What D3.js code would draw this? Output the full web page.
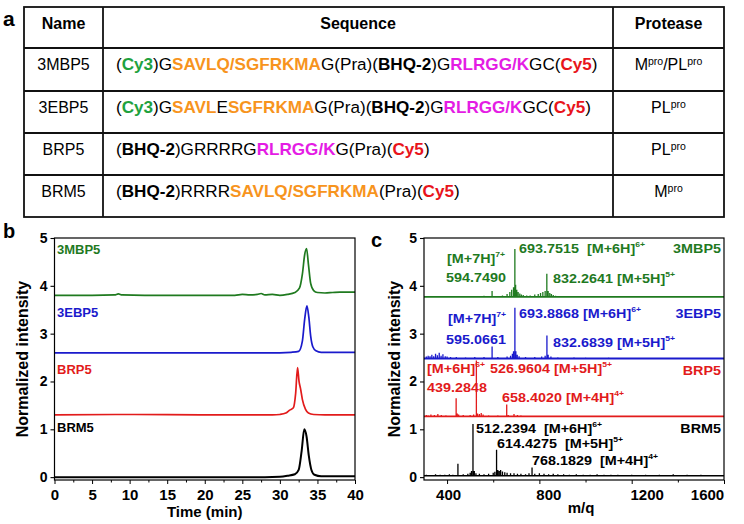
<!DOCTYPE html>
<html><head><meta charset="utf-8">
<script src="https://cdn.jsdelivr.net/npm/d3@7"></script>
<style>
body{margin:0;background:#fff}
svg{display:block}
text{font-family:"Liberation Sans",Arial,Helvetica,sans-serif;white-space:pre}
</style>
</head><body>
<svg id="fig" width="744" height="524"></svg>
<script>
// ================= DATA =================
// Panel a: table
const tableHeaders = ["Name", "Sequence", "Protease"];
const peptideNames = ["3MBP5", "3EBP5", "BRP5", "BRM5"];
// sequence segments: [text, kind]  kind: n=normal, b=bold, cy3, mpro, plpro, cy5
const sequenceSegments = [
  [["(", "n"], ["Cy3", "cy3"], [")G", "n"], ["SAVLQ/SGFRKMA", "mpro"], ["G(Pra)(", "n"], ["BHQ-2", "b"], [")G", "n"], ["RLRGG/K", "plpro"], ["GC(", "n"], ["Cy5", "cy5"], [")", "n"]],
  [["(", "n"], ["Cy3", "cy3"], [")G", "n"], ["SAVL", "mpro"], ["E", "n"], ["SGFRKMA", "mpro"], ["G(Pra)(", "n"], ["BHQ-2", "b"], [")G", "n"], ["RLRGG/K", "plpro"], ["GC(", "n"], ["Cy5", "cy5"], [")", "n"]],
  [["(", "n"], ["BHQ-2", "b"], [")GRRRRG", "n"], ["RLRGG/K", "plpro"], ["G(Pra)(", "n"], ["Cy5", "cy5"], [")", "n"]],
  [["(", "n"], ["BHQ-2", "b"], [")RRRR", "n"], ["SAVLQ/SGFRKMA", "mpro"], ["(Pra)(", "n"], ["Cy5", "cy5"], [")", "n"]]
];
// protease segments: [text, isSuperscript]
const proteaseSegments = [
  [["M", 0], ["pro", 1], ["/PL", 0], ["pro", 1]],
  [["PL", 0], ["pro", 1]],
  [["PL", 0], ["pro", 1]],
  [["M", 0], ["pro", 1]]
];

// Panel b: HPLC traces [time (min), normalized intensity incl. offset]
const hplc3MBP5 = [[0,3.80],[5,3.80],[8,3.81],[8.5,3.83],[9,3.81],[12,3.80],[20,3.80],[24,3.80],[25,3.82],[26,3.81],[27,3.82],[27.5,3.84],[28,3.81],[29,3.82],[30,3.80],[31,3.82],[32,3.86],[32.6,3.95],[33.0,4.25],[33.3,4.65],[33.55,4.78],[33.8,4.45],[34.1,4.05],[34.5,3.90],[35,3.86],[36,3.85],[37,3.86],[38,3.87],[40,3.87]];
const hplc3EBP5 = [[0,2.60],[30,2.60],[31.5,2.61],[32.5,2.63],[33.0,2.85],[33.3,3.30],[33.6,3.58],[33.85,3.35],[34.1,2.95],[34.4,2.72],[34.8,2.64],[35.5,2.61],[40,2.61]];
const hplcBRP5 = [[0,1.30],[10,1.31],[20,1.30],[29,1.30],[30,1.31],[30.8,1.34],[31.3,1.40],[31.8,1.45],[32.1,1.75],[32.35,2.29],[32.55,2.00],[32.75,1.85],[33.0,1.62],[33.4,1.42],[33.8,1.34],[34.5,1.31],[36,1.30],[40,1.30]];
const hplcBRM5 = [[0,0.0],[20,0.0],[28,0.0],[30,0.01],[31,0.03],[32,0.06],[32.5,0.15],[32.9,0.55],[33.25,1.0],[33.55,0.85],[33.85,0.45],[34.2,0.15],[34.6,0.05],[35.5,0.02],[40,0.02]];
const hplcTicksX = [0, 5, 10, 15, 20, 25, 30, 35, 40];
const yTicks = [0, 1, 2, 3, 4, 5];

// Panel c: mass spectra, baseline offsets and sticks [m/q, relative intensity]
const msBaselines = [3.77, 2.48, 1.27, 0.03];
const ms3MBP5 = [[560,0.02],[595,0.12],[640,0.03],[660,0.06],[672,0.1],[680,0.15],[688,0.2],[693.75,1.0],[697,0.25],[702,0.15],[708,0.1],[715,0.07],[722,0.05],[730,0.04],[745,0.03],[760,0.03],[780,0.05],[795,0.06],[805,0.08],[815,0.1],[825,0.12],[832.26,0.48],[838,0.12],[845,0.08],[852,0.06],[860,0.04],[870,0.02],[900,0.01]];
const ms3EBP5 = [[310,0.04],[318,0.06],[326,0.05],[334,0.08],[342,0.05],[350,0.1],[358,0.07],[366,0.12],[374,0.06],[382,0.09],[392,0.05],[400,0.04],[415,0.03],[440,0.03],[480,0.02],[520,0.03],[560,0.03],[595.07,0.25],[620,0.03],[660,0.04],[675,0.06],[683,0.1],[688,0.15],[693.89,1.06],[698,0.15],[704,0.08],[712,0.05],[740,0.03],[780,0.03],[810,0.04],[825,0.06],[832.68,0.48],[838,0.08],[850,0.04],[880,0.02],[950,0.02],[1000,0.015],[1100,0.015],[1200,0.01],[1300,0.01],[1400,0.01]];
const msBRP5 = [[310,0.03],[318,0.02],[330,0.04],[345,0.03],[360,0.05],[375,0.03],[395,0.02],[439.28,0.38],[444,0.06],[450,0.04],[470,0.03],[500,0.03],[515,0.04],[526.96,1.17],[532,0.06],[540,0.05],[548,0.07],[556,0.04],[580,0.02],[620,0.02],[658.40,0.25],[665,0.03],[690,0.05],[705,0.03],[720,0.02],[740,0.01]];
const msBRM5 = [[310,0.02],[330,0.015],[350,0.03],[370,0.02],[390,0.02],[410,0.03],[425,0.02],[447,0.25],[470,0.03],[490,0.04],[500,0.06],[506,0.1],[512.24,1.08],[518,0.1],[525,0.05],[540,0.04],[560,0.03],[580,0.04],[600,0.06],[607,0.08],[614.43,0.54],[620,0.12],[626,0.1],[632,0.12],[640,0.09],[650,0.07],[660,0.06],[675,0.05],[690,0.05],[705,0.04],[720,0.04],[740,0.03],[755,0.05],[768.18,0.17],[780,0.04],[800,0.05],[820,0.04],[840,0.03],[860,0.04],[880,0.03],[905,0.03],[930,0.02],[960,0.03],[990,0.02],[1020,0.02],[1050,0.03],[1080,0.02],[1110,0.02],[1140,0.02],[1170,0.015],[1200,0.02],[1230,0.015],[1260,0.02],[1290,0.015],[1320,0.02],[1350,0.015],[1380,0.03],[1410,0.015],[1440,0.02],[1470,0.015],[1500,0.02]];
const msTicksMajor = [400, 800, 1200, 1600];
const msTicksMinor = [600, 1000, 1400];
// annotation texts per spectrum: [main text, superscript]
const msLabels = [
  [["[M+7H]", "7+"], ["594.7490", ""], ["693.7515  [M+6H]", "6+"], ["832.2641 [M+5H]", "5+"]],
  [["[M+7H]", "7+"], ["595.0661", ""], ["693.8868 [M+6H]", "6+"], ["832.6839 [M+5H]", "5+"]],
  [["[M+6H]", "6+"], ["526.9604 [M+5H]", "5+"], ["439.2848", ""], ["658.4020 [M+4H]", "4+"]],
  [["512.2394  [M+6H]", "6+"], ["614.4275  [M+5H]", "5+"], ["768.1829  [M+4H]", "4+"]]
];

// ================= STYLE / LAYOUT =================
const seriesColors = ["#1f7a1f", "#1a1acc", "#e21b1b", "#000000"];
const tableColors = {cy3: "#1ea23e", mpro: "#f7941d", plpro: "#e41ce4", cy5: "#e8141b"};
const FONT = '"Liberation Sans",Arial,sans-serif';

const svg = d3.select("#fig");

// ---------- Panel a ----------
const colX = [24, 103, 613, 724];
const rowY = [7, 48, 91, 133, 175, 217];
const gA = svg.append("g");
gA.append("text").attr("x", 3).attr("y", 26).attr("font-size", 21).attr("font-weight", "bold").text("a");
gA.append("rect").attr("x", colX[0]).attr("y", rowY[0]).attr("width", colX[3] - colX[0]).attr("height", rowY[5] - rowY[0])
  .attr("fill", "none").attr("stroke", "#111").attr("stroke-width", 1.8);
rowY.slice(1, 5).forEach(y => gA.append("line").attr("x1", colX[0]).attr("x2", colX[3]).attr("y1", y).attr("y2", y).attr("stroke", "#111").attr("stroke-width", 1.8));
colX.slice(1, 3).forEach(x => gA.append("line").attr("x1", x).attr("x2", x).attr("y1", rowY[0]).attr("y2", rowY[5]).attr("stroke", "#111").attr("stroke-width", 1.8));

const rowBase = i => rowY[i] + 21.5;
tableHeaders.forEach((h, j) => {
  gA.append("text").attr("x", (colX[j] + colX[j + 1]) / 2).attr("y", rowBase(0)).attr("text-anchor", "middle")
    .attr("font-size", 16).attr("font-weight", "bold").text(h);
});
peptideNames.forEach((n, i) => {
  gA.append("text").attr("x", (colX[0] + colX[1]) / 2).attr("y", rowBase(i + 1)).attr("text-anchor", "middle")
    .attr("font-size", 16).text(n);
});
const seqTexts = sequenceSegments.map((segs, i) => {
  const t = gA.append("text").attr("font-size", 16.5);
  segs.forEach(([s, k]) => {
    const ts = t.append("tspan").text(s);
    if (k !== "n") ts.attr("font-weight", "bold");
    if (tableColors[k]) ts.attr("fill", tableColors[k]);
  });
  return t;
});
const seqScale = 482 / seqTexts[0].node().getComputedTextLength();
seqTexts.forEach((t, i) => t.attr("transform", `translate(116,${rowBase(i + 1)}) scale(${seqScale},1)`));
proteaseSegments.forEach((segs, i) => {
  const t = gA.append("text").attr("x", (colX[2] + colX[3]) / 2).attr("y", rowBase(i + 1)).attr("text-anchor", "middle").attr("font-size", 16);
  segs.forEach(([s, sup]) => {
    const ts = t.append("tspan").text(s);
    if (sup) ts.attr("font-size", 10.5).attr("baseline-shift", "5");
  });
});

// ---------- helpers ----------
function frame(g, x0, x1, y0, y1) {
  g.append("rect").attr("x", x0).attr("y", y0).attr("width", x1 - x0).attr("height", y1 - y0)
    .attr("fill", "none").attr("stroke", "#000").attr("stroke-width", 1.2);
}
function yAxis(g, y, xLeft, titleX) {
  g.append("g").attr("transform", `translate(${xLeft},0)`)
    .call(d3.axisLeft(y).tickValues(yTicks).tickSize(4).tickPadding(3).tickFormat(d3.format("d")))
    .call(s => s.select(".domain").remove())
    .call(s => s.selectAll("text").attr("font-size", 14).attr("font-weight", "bold").attr("font-family", FONT).attr("fill", "#000"))
    .call(s => s.selectAll("line").attr("stroke-width", 1.1));
  g.append("text").attr("transform", `translate(${titleX},${(y.range()[0] + y.range()[1]) / 2}) rotate(-90)`)
    .attr("text-anchor", "middle").attr("font-size", 16).attr("font-weight", "bold").text("Normalized intensity");
}

const plotTop = 238, plotBottom = 480;

// ---------- Panel b ----------
const gB = svg.append("g");
gB.append("text").attr("x", 3).attr("y", 238).attr("font-size", 20).attr("font-weight", "bold").text("b");
const xB = d3.scaleLinear().domain([0, 40]).range([54.5, 355]);
const yB = d3.scaleLinear().domain([-0.06, 5]).range([plotBottom, plotTop]);
const hplcSeries = [hplc3MBP5, hplc3EBP5, hplcBRP5, hplcBRM5];
const lineB = d3.line().x(d => xB(d[0])).y(d => yB(d[1])).curve(d3.curveMonotoneX);
hplcSeries.forEach((s, i) => {
  gB.append("path").attr("d", lineB(s)).attr("fill", "none").attr("stroke", seriesColors[i]).attr("stroke-width", i === 3 ? 2 : 1.7);
});
frame(gB, 54.5, 355, plotTop, plotBottom);
gB.append("g").attr("transform", `translate(0,${plotBottom})`)
  .call(d3.axisBottom(xB).tickValues(hplcTicksX).tickSize(4).tickPadding(5).tickFormat(d3.format("d")))
  .call(s => s.select(".domain").remove())
  .call(s => s.selectAll("text").attr("font-size", 15).attr("font-weight", "bold").attr("font-family", FONT).attr("fill", "#000"));
gB.append("g").attr("transform", `translate(0,${plotBottom})`)
  .call(d3.axisBottom(xB).tickValues(hplcTicksX.slice(0, -1).map(v => v + 2.5)).tickSize(2.5).tickFormat(""))
  .call(s => s.select(".domain").remove());
yAxis(gB, yB, 54.5, 28);
gB.append("text").attr("x", (54.5 + 355) / 2).attr("y", 517).attr("text-anchor", "middle").attr("font-size", 15).attr("font-weight", "bold").text("Time (min)");
const hplcLabelY = [254, 317, 374, 432];
peptideNames.forEach((n, i) => {
  gB.append("text").attr("x", 57).attr("y", hplcLabelY[i]).attr("font-size", 13).attr("font-weight", "bold").attr("fill", seriesColors[i]).text(n);
});

// ---------- Panel c ----------
const gC = svg.append("g");
gC.append("text").attr("x", 371).attr("y", 247).attr("font-size", 20).attr("font-weight", "bold").text("c");
const xC = d3.scaleLinear().domain([300, 1600]).range([424, 724]);
const yC = d3.scaleLinear().domain([-0.06, 5]).range([plotBottom, plotTop]);
const msSeries = [ms3MBP5, ms3EBP5, msBRP5, msBRM5];
msSeries.forEach((s, i) => {
  const b = msBaselines[i];
  const p = d3.path();
  s.forEach(([m, h]) => { p.moveTo(xC(m), yC(b)); p.lineTo(xC(m), yC(b + h)); });
  gC.append("path").attr("d", p.toString()).attr("fill", "none").attr("stroke", seriesColors[i]).attr("stroke-width", 1.3);
  gC.append("line").attr("x1", xC(300)).attr("x2", xC(1600)).attr("y1", yC(b)).attr("y2", yC(b))
    .attr("stroke", seriesColors[i]).attr("stroke-width", i === 3 ? 1.4 : 1.8);
});
frame(gC, 424, 724, plotTop, plotBottom);
const xTickLabelShift = {400: 1, 800: 9, 1200: 15, 1600: -17};
gC.append("g").attr("transform", `translate(0,${plotBottom})`)
  .call(d3.axisBottom(xC).tickValues(msTicksMajor).tickSize(4).tickPadding(5).tickFormat(d3.format("d")))
  .call(s => s.select(".domain").remove())
  .call(s => s.selectAll("text").attr("font-size", 15).attr("font-weight", "bold").attr("font-family", FONT).attr("fill", "#000")
    .attr("dx", d => xTickLabelShift[d] || 0));
gC.append("g").attr("transform", `translate(0,${plotBottom})`)
  .call(d3.axisBottom(xC).tickValues(msTicksMinor).tickSize(2.5).tickFormat(""))
  .call(s => s.select(".domain").remove());
yAxis(gC, yC, 424, 400);
gC.append("text").attr("x", 581).attr("y", 513).attr("text-anchor", "middle").attr("font-size", 15).attr("font-weight", "bold").text("m/q");

// spectrum name labels (right aligned)
const msNameY = [253, 318, 375, 433];
const SXC = 1.15;
peptideNames.forEach((n, i) => {
  gC.append("text").attr("transform", `translate(721,${msNameY[i]}) scale(${SXC},1)`).attr("text-anchor", "end")
    .attr("font-size", 12.5).attr("font-weight", "bold").attr("fill", seriesColors[i]).text(n);
});
// annotation positions (pixel layout)
const msLabelPos = [
  [[447, 263], [446, 282], [519, 253], [553, 283]],
  [[448, 323], [446, 344], [519, 318], [553, 347]],
  [[427, 373], [490, 373], [427, 392], [502, 402]],
  [[476, 433], [497, 448], [532, 465]]
];
msLabels.forEach((labs, i) => {
  labs.forEach(([txt, sup], j) => {
    const [x, y] = msLabelPos[i][j];
    const t = gC.append("text").attr("transform", `translate(${x},${y}) scale(${SXC},1)`)
      .attr("font-size", 12.5).attr("font-weight", "bold").attr("fill", seriesColors[i]);
    t.append("tspan").text(txt);
    if (sup) t.append("tspan").attr("font-size", 7.5).attr("dy", -6).text(sup);
  });
});
</script>
</body></html>
